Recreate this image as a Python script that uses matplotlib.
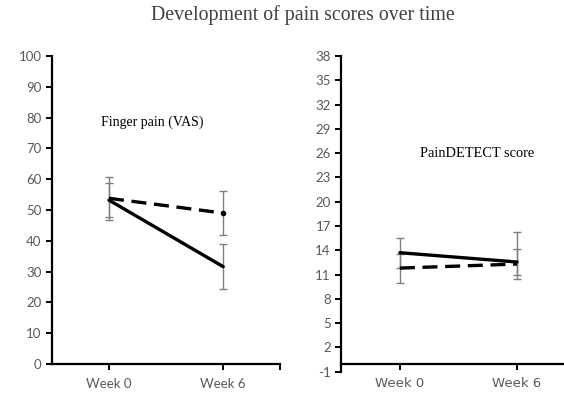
import matplotlib.pyplot as plt
from matplotlib.ticker import FixedLocator

plt.rcParams["axes.unicode_minus"] = False

weeks = ["Week 0", "Week 6"]

# Finger pain (VAS)
vas_solid = [53.2, 31.6]
vas_solid_err = [5.5, 7.25]
vas_dash = [53.8, 49.0]
vas_dash_err = [6.9, 7.1]

# PainDETECT score (error bars read as low / high)
pd_solid = [13.7, 12.55]
pd_solid_lo = [1.85, 1.55]
pd_solid_hi = [1.8, 3.65]
pd_dash = [11.8, 12.3]
pd_dash_lo = [1.84, 1.8]
pd_dash_hi = [1.7, 1.85]

vas_ticks = list(range(0, 101, 10))
pd_ticks = list(range(-1, 39, 3))

tick_gray = "#595959"
err_gray = "#7f7f7f"

fig = plt.figure(figsize=(5.64, 3.93), dpi=100)
ax1 = fig.add_axes([0.092, 0.0738, 0.405, 0.7837])
ax2 = fig.add_axes([0.605, 0.0542, 0.395, 0.8033])

x = [0, 1]


def style_axis(ax):
    for s in ["top", "right"]:
        ax.spines[s].set_visible(False)
    for s in ["left", "bottom"]:
        ax.spines[s].set_linewidth(1.6)
    ax.tick_params(axis="both", direction="out", length=4, width=1.4,
                   colors="black", labelcolor=tick_gray, labelsize=9.5)
    ax.set_xticks(x)
    ax.set_xticklabels(weeks, fontfamily="Lato")
    for tl in ax.get_yticklabels():
        tl.set_fontfamily("Lato")
    ax.xaxis.set_minor_locator(FixedLocator([1.5]))
    ax.tick_params(axis="x", which="minor", length=4, width=1.4)
    ax.tick_params(axis="x", pad=6)


# left panel
ax1.errorbar(x, vas_solid, yerr=vas_solid_err, fmt="none", ecolor=err_gray,
             elinewidth=1, capsize=3, capthick=1)
ax1.errorbar(x, vas_dash, yerr=vas_dash_err, fmt="none", ecolor=err_gray,
             elinewidth=1, capsize=3, capthick=1)
ax1.plot(x, vas_solid, "k-", lw=2.4, solid_capstyle="round")
ax1.plot(x, vas_dash, "k--", lw=2.4, dashes=(4.5, 2.3), marker="o", ms=3,
         markevery=[1])
ax1.set_xlim(-0.5, 1.5)
ax1.set_ylim(0, 100)
ax1.set_yticks(vas_ticks)
style_axis(ax1)
ax1.text(0.377, 78.5, "Finger pain (VAS)", fontfamily="Liberation Serif",
         fontsize=10, ha="center", va="center")

# right panel
ax2.errorbar(x, pd_solid, yerr=[pd_solid_lo, pd_solid_hi], fmt="none",
             ecolor=err_gray, elinewidth=1, capsize=3, capthick=1)
ax2.errorbar(x, pd_dash, yerr=[pd_dash_lo, pd_dash_hi], fmt="none",
             ecolor=err_gray, elinewidth=1, capsize=3, capthick=1)
ax2.plot(x, pd_solid, "k-", lw=2.4, solid_capstyle="round")
ax2.plot(x, pd_dash, "k--", lw=2.4, dashes=(4.5, 2.3))
ax2.set_xlim(-0.5, 1.4)
ax2.set_ylim(-1, 38)
ax2.set_yticks(pd_ticks)
style_axis(ax2)
ax2.spines["bottom"].set_position(("data", 0))
ax2.text(0.663, 25.9, "PainDETECT score", fontfamily="Liberation Serif",
         fontsize=10.4, ha="center", va="center")

fig.text(0.537, 0.962, "Development of pain scores over time",
         fontfamily="Liberation Serif", fontsize=14.3, color="#404040",
         ha="center", va="center")

fig.savefig("out.png", dpi=100)
